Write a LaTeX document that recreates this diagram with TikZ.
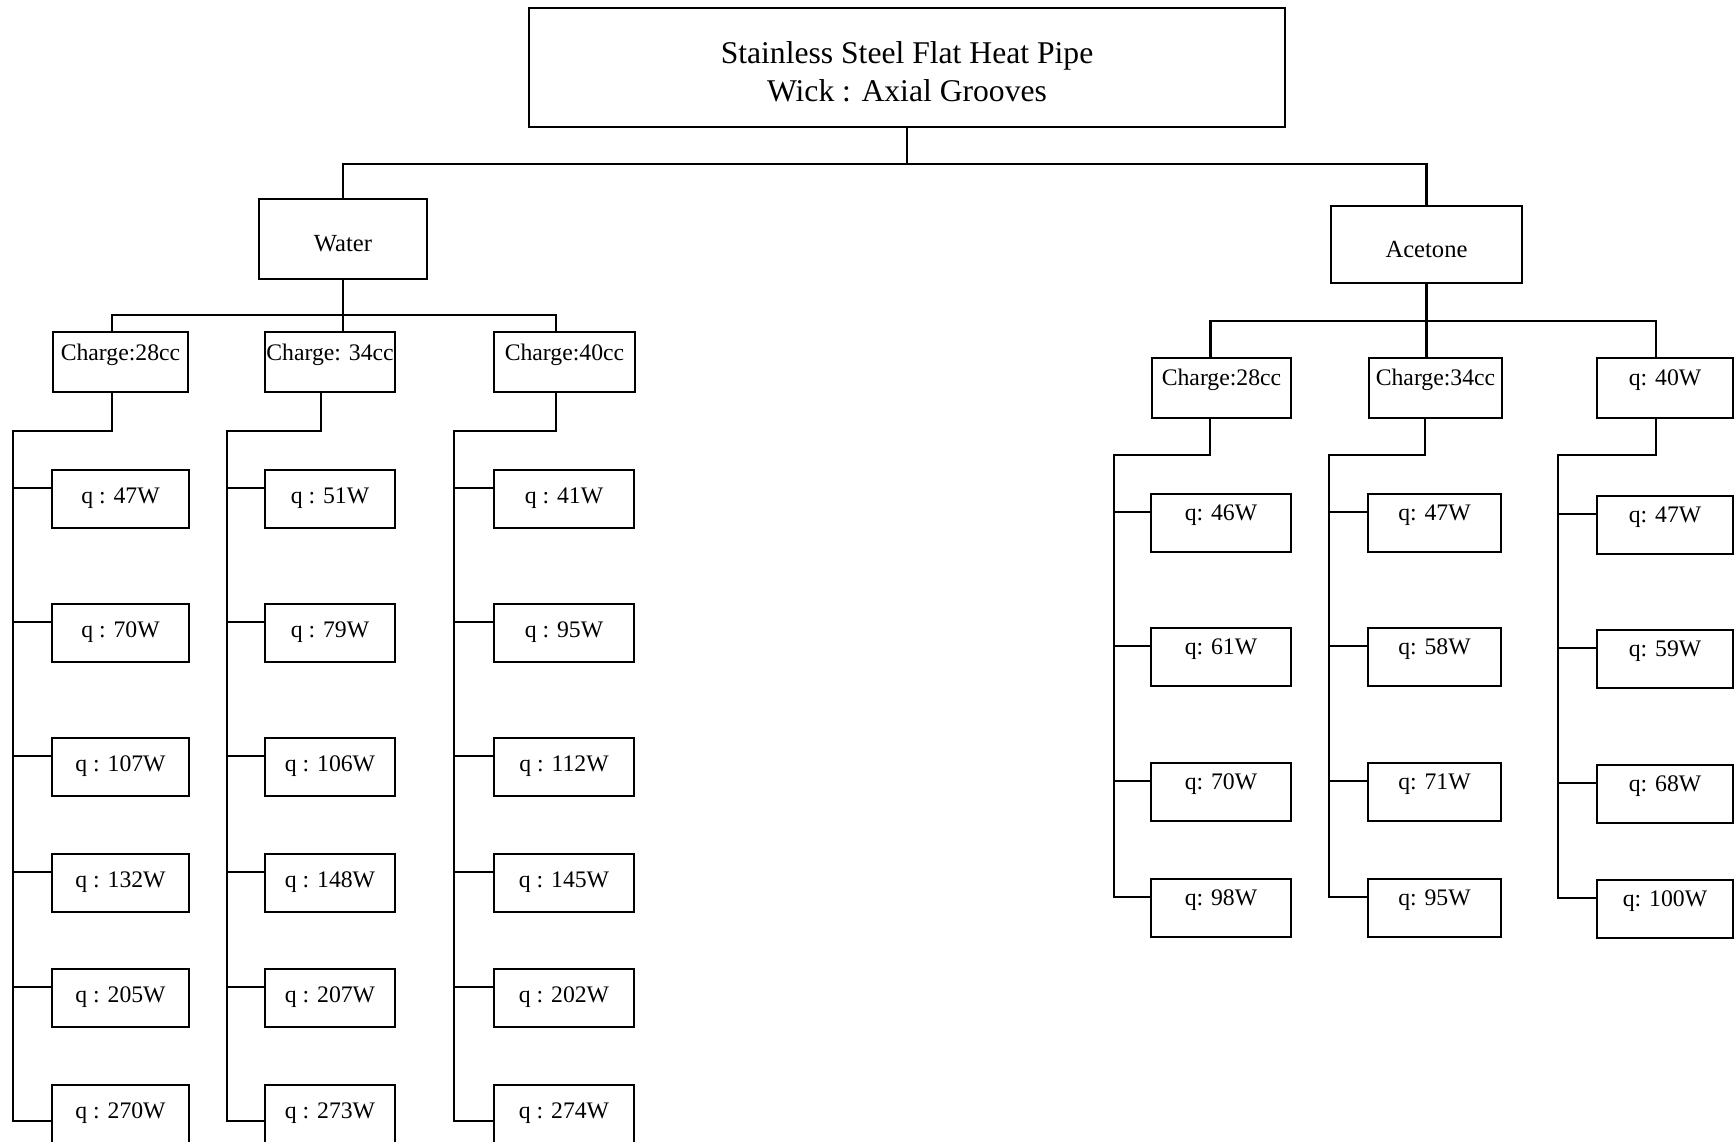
\documentclass[tikz,border=0pt]{standalone}
\usepackage{fontspec}
\setmainfont{Liberation Serif}
\begin{document}
\begin{tikzpicture}[x=0.2mm, y=-0.2mm, line width=1.3pt,
    box/.style={draw, inner sep=0pt, text height=3.5mm, font=\fontsize{13.5}{16}\selectfont},
    fluid/.style={draw, inner sep=0pt, text height=5.1mm, text depth=0mm, font=\fontsize{14}{16}\selectfont},
    wcharge/.style={box, minimum height=12mm, text depth=4.2mm},
    acharge/.style={box, minimum height=12mm, text depth=4.5mm},
    wq/.style={box, minimum height=11.6mm, text depth=1.7mm},
    aq/.style={box, minimum height=11.6mm, text depth=4.6mm},
    colA/.style={minimum width=27.4mm}, colB/.style={minimum width=26mm},
    colC/.style={minimum width=28mm}, colD/.style={minimum width=28mm},
    colE/.style={minimum width=26.6mm}, colF/.style={minimum width=27.2mm}]
  \useasboundingbox (0,0) rectangle (1734,1141);
  \clip (0,0) rectangle (1734,1141);

  % top and fluids
  \node (pipe) at (907, 67.5) [draw, minimum width=151.2mm, minimum height=23.8mm, align=center,
    font=\fontsize{18}{21.5}\selectfont] {\rule{0pt}{17.3pt}Stainless Steel Flat Heat Pipe\\Wick : Axial Grooves};
  \node (water) at (343, 239) [fluid, minimum width=33.6mm, minimum height=16mm] {Water};
  \node (acetone) at (1426.5, 244.5) [fluid, minimum width=38.2mm, minimum height=15.4mm] {Acetone};

  % water charges
  \node (w28) at (120.5, 362) [wcharge, minimum width=27mm] {Charge:28cc};
  \node (w34) at (330, 362) [wcharge, minimum width=26mm] {Charge: 34cc};
  \node (w40) at (564.5, 362) [wcharge, minimum width=28.2mm] {Charge:40cc};

  % acetone charges
  \node (a28) at (1221.5, 388) [acharge, minimum width=27.8mm] {Charge:28cc};
  \node (a34) at (1435.5, 388) [acharge, minimum width=26.6mm] {Charge:34cc};
  \node (a40) at (1665, 388) [acharge, minimum width=27.2mm] {q: 40W};

  % water, 28cc
  \node (w28a) at (120.5, 499) [wq, colA] {q : 47W};
  \node (w28b) at (120.5, 633) [wq, colA] {q : 70W};
  \node (w28c) at (120.5, 767) [wq, colA] {q : 107W};
  \node (w28d) at (120.5, 883) [wq, colA] {q : 132W};
  \node (w28e) at (120.5, 998) [wq, colA] {q : 205W};
  \node (w28f) at (120.5, 1114) [wq, colA] {q : 270W};

  % water, 34cc
  \node (w34a) at (330, 499) [wq, colB] {q : 51W};
  \node (w34b) at (330, 633) [wq, colB] {q : 79W};
  \node (w34c) at (330, 767) [wq, colB] {q : 106W};
  \node (w34d) at (330, 883) [wq, colB] {q : 148W};
  \node (w34e) at (330, 998) [wq, colB] {q : 207W};
  \node (w34f) at (330, 1114) [wq, colB] {q : 273W};

  % water, 40cc
  \node (w40a) at (564, 499) [wq, colC] {q : 41W};
  \node (w40b) at (564, 633) [wq, colC] {q : 95W};
  \node (w40c) at (564, 767) [wq, colC] {q : 112W};
  \node (w40d) at (564, 883) [wq, colC] {q : 145W};
  \node (w40e) at (564, 998) [wq, colC] {q : 202W};
  \node (w40f) at (564, 1114) [wq, colC] {q : 274W};

  % acetone, 28cc
  \node (a28a) at (1221, 523) [aq, colD] {q: 46W};
  \node (a28b) at (1221, 657) [aq, colD] {q: 61W};
  \node (a28c) at (1221, 792) [aq, colD] {q: 70W};
  \node (a28d) at (1221, 908) [aq, colD] {q: 98W};

  % acetone, 34cc
  \node (a34a) at (1434.5, 523) [aq, colE] {q: 47W};
  \node (a34b) at (1434.5, 657) [aq, colE] {q: 58W};
  \node (a34c) at (1434.5, 792) [aq, colE] {q: 71W};
  \node (a34d) at (1434.5, 908) [aq, colE] {q: 95W};

  % acetone, 40W
  \node (a40a) at (1665, 525) [aq, colF] {q: 47W};
  \node (a40b) at (1665, 659) [aq, colF] {q: 59W};
  \node (a40c) at (1665, 794) [aq, colF] {q: 68W};
  \node (a40d) at (1665, 909) [aq, colF] {q: 100W};

  % junctions
  \coordinate (tj) at (907, 164);
  \coordinate (wj) at (343, 315);
  \coordinate (aj) at (1426.5, 321);
  \coordinate (wt1) at (13, 431);
  \coordinate (wt2) at (227, 431);
  \coordinate (wt3) at (454, 431);
  \coordinate (at1) at (1114, 455);
  \coordinate (at2) at (1329, 455);
  \coordinate (at3) at (1558, 455);

  \draw (pipe) to (tj);
  \draw (water) |- (tj) -| (acetone);
  \draw (water) to (water |- w34.north);
  \draw ([xshift=-1.7mm]w28.north) |- (wj) -| ([xshift=-1.7mm]w40.north);
  \draw (acetone) to (acetone |- a34.north);
  \draw ([xshift=-2.2mm]a28.north) |- (aj) -| ([xshift=-1.8mm]a40.north);

  \draw ([xshift=-1.7mm]w28.south) |- (wt1) |- ([yshift=-7.4mm]w28f.north west);
  \draw (wt1) |- ([yshift=-3.8mm]w28a.north west);
  \draw (wt1) |- ([yshift=-3.8mm]w28b.north west);
  \draw (wt1) |- ([yshift=-3.8mm]w28c.north west);
  \draw (wt1) |- ([yshift=-3.8mm]w28d.north west);
  \draw (wt1) |- ([yshift=-3.8mm]w28e.north west);

  \draw ([xshift=-1.8mm]w34.south) |- (wt2) |- ([yshift=-7.4mm]w34f.north west);
  \draw (wt2) |- ([yshift=-3.8mm]w34a.north west);
  \draw (wt2) |- ([yshift=-3.8mm]w34b.north west);
  \draw (wt2) |- ([yshift=-3.8mm]w34c.north west);
  \draw (wt2) |- ([yshift=-3.8mm]w34d.north west);
  \draw (wt2) |- ([yshift=-3.8mm]w34e.north west);

  \draw ([xshift=-1.7mm]w40.south) |- (wt3) |- ([yshift=-7.4mm]w40f.north west);
  \draw (wt3) |- ([yshift=-3.8mm]w40a.north west);
  \draw (wt3) |- ([yshift=-3.8mm]w40b.north west);
  \draw (wt3) |- ([yshift=-3.8mm]w40c.north west);
  \draw (wt3) |- ([yshift=-3.8mm]w40d.north west);
  \draw (wt3) |- ([yshift=-3.8mm]w40e.north west);

  \draw ([xshift=-2.3mm]a28.south) |- (at1) |- ([yshift=-3.8mm]a28d.north west);
  \draw (at1) |- ([yshift=-3.8mm]a28a.north west);
  \draw (at1) |- ([yshift=-3.8mm]a28b.north west);
  \draw (at1) |- ([yshift=-3.8mm]a28c.north west);

  \draw ([xshift=-2.1mm]a34.south) |- (at2) |- ([yshift=-3.8mm]a34d.north west);
  \draw (at2) |- ([yshift=-3.8mm]a34a.north west);
  \draw (at2) |- ([yshift=-3.8mm]a34b.north west);
  \draw (at2) |- ([yshift=-3.8mm]a34c.north west);

  \draw ([xshift=-1.8mm]a40.south) |- (at3) |- ([yshift=-3.8mm]a40d.north west);
  \draw (at3) |- ([yshift=-3.8mm]a40a.north west);
  \draw (at3) |- ([yshift=-3.8mm]a40b.north west);
  \draw (at3) |- ([yshift=-3.8mm]a40c.north west);
\end{tikzpicture}
\end{document}
